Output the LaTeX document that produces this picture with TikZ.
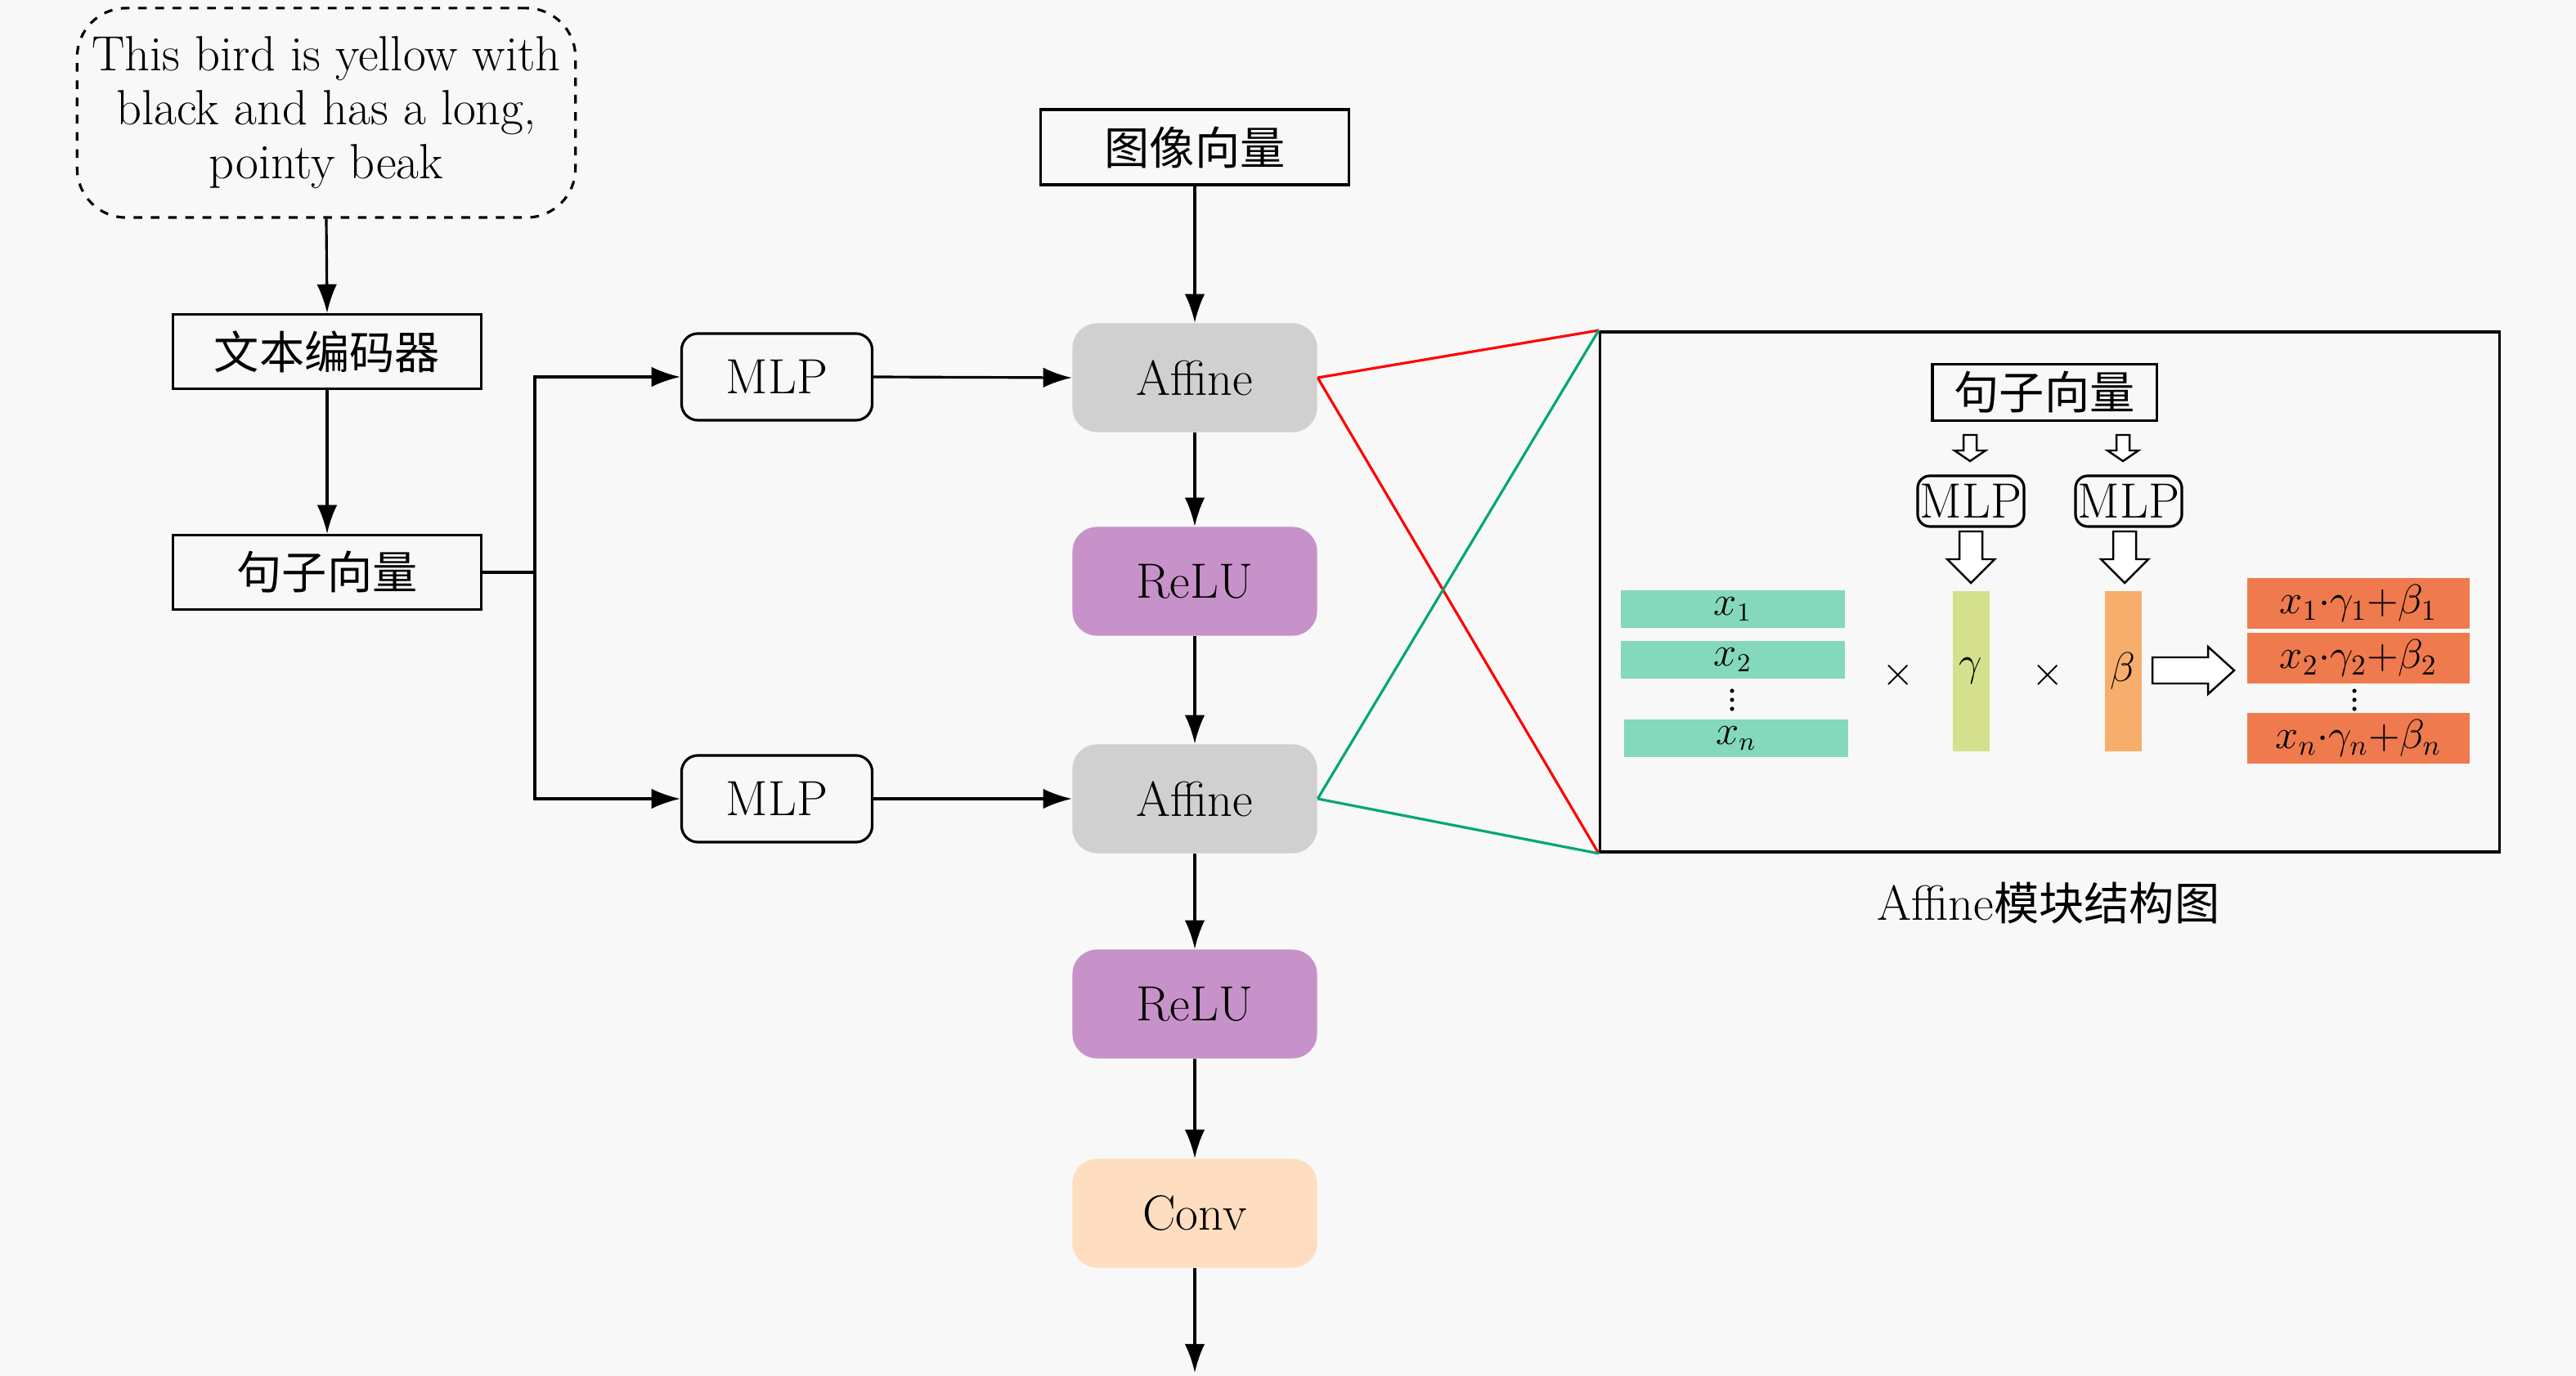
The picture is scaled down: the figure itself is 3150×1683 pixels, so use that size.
\documentclass[tikz,border=0pt]{standalone}
\usepackage{fontspec}
\newfontfamily\cjk{Noto Sans CJK SC}
\newcommand{\zh}{\cjk\fontsize{15.7}{18.8}\selectfont}
\usetikzlibrary{arrows.meta}
\definecolor{bg}{HTML}{F8F8F8}
\definecolor{affgray}{HTML}{D0D0D0}
\definecolor{relupurple}{HTML}{C692C9}
\definecolor{convpeach}{HTML}{FFDDC0}
\definecolor{tealbar}{HTML}{84D8BC}
\definecolor{gammabar}{HTML}{D4E08C}
\definecolor{betabar}{HTML}{F7AE6D}
\definecolor{outbar}{HTML}{EE7A4E}
\definecolor{linkgreen}{HTML}{00A676}
\tikzset{
  mainfont/.style={font=\fontsize{17.2}{18.8}\selectfont},
  smallfont/.style={font=\fontsize{13.5}{15}\selectfont},
  plainbox/.style={draw, rectangle, inner sep=0pt, line width=0.9pt, mainfont},
  mlpbox/.style={draw, rectangle, rounded corners=0.2cm, inner sep=0pt, line width=0.9pt, mainfont, minimum width=2.33cm, minimum height=1.06cm},
  stagebox/.style={rectangle, rounded corners=0.3cm, inner sep=0pt, mainfont, minimum width=2.99cm, minimum height=1.33cm},
  conn/.style={-{Latex[length=10pt,width=7pt]}, line width=0.9pt},
  hollow/.style={draw, line width=0.7pt, fill=white},
  xbar/.style={rectangle, fill=tealbar, inner sep=0pt, minimum width=2.74cm, minimum height=0.45cm, smallfont},
  obar/.style={rectangle, fill=outbar, inner sep=0pt, minimum width=2.72cm, minimum height=0.61cm, font=\fontsize{14.5}{16}\selectfont},
  vbar/.style={rectangle, inner sep=0pt, minimum width=0.45cm, minimum height=1.96cm, font=\fontsize{15}{16}\selectfont},
  smlp/.style={draw, rectangle, rounded corners=0.15cm, inner sep=0pt, line width=0.9pt, mainfont, minimum width=1.30cm, minimum height=0.62cm}
}
\begin{document}
\begin{tikzpicture}[x=0.01cm, y=-0.01cm]
\fill[bg] (0,0) rectangle (3150,1683);
\useasboundingbox (0,0) rectangle (3150,1683);

% left column
\node[draw, dashed, rounded corners=0.6cm, line width=0.9pt, minimum width=6.09cm, minimum height=2.56cm, align=center, mainfont] (desc) at (399,138)
  {This bird is yellow with\\ black and has a long,\\ pointy beak};
\node[plainbox, minimum width=3.76cm, minimum height=0.91cm] (enc) at (400,430) {\zh 文本编码器};
\node[plainbox, minimum width=3.76cm, minimum height=0.91cm] (sent) at (400,700) {\zh 句子向量};
\coordinate (split) at (654,700);
\coordinate (splitup) at (654,461);
\coordinate (splitdown) at (654,977);

\node[mlpbox] (mlpa) at (950,461) {MLP};
\node[mlpbox] (mlpb) at (950,977) {MLP};

% main column
\node[plainbox, minimum width=3.76cm, minimum height=0.92cm] (img) at (1461,180) {\zh 图像向量};
\node[stagebox, fill=affgray] (affa) at (1461,462) {Affine};
\node[stagebox, fill=relupurple] (relua) at (1461,711) {ReLU};
\node[stagebox, fill=affgray] (affb) at (1461,977) {Affine};
\node[stagebox, fill=relupurple] (relub) at (1461,1228) {ReLU};
\node[stagebox, fill=convpeach] (conv) at (1461,1484) {Conv};
\coordinate (out) at (1461,1679);

% connectors
\draw[conn] (desc.south) -- (enc.north);
\draw[conn] (enc.south) -- (sent.north);
\draw[line width=0.9pt] (sent.east) -- (split);
\draw[conn] (splitup) -- (splitdown |- mlpb.west) -- (mlpb.west);
\draw[conn] (splitdown) -- (splitup |- mlpa.west) -- (mlpa.west);
\draw[conn] (mlpa.east) -- (affa.west);
\draw[conn] (mlpb.east) -- (affb.west);
\draw[conn] (img.south) -- (affa.north);
\draw[conn] (affa.south) -- (relua.north);
\draw[conn] (relua.south) -- (affb.north);
\draw[conn] (affb.south) -- (relub.north);
\draw[conn] (relub.south) -- (conv.north);
\draw[conn] (conv.south) -- (out);

% detail box
\node[draw, rectangle, line width=1pt, minimum width=10.99cm, minimum height=6.36cm, inner sep=0pt] (detail) at (2506.5,724) {};
\draw[red, line width=0.9pt] (affa.east) -- (detail.north west);
\draw[red, line width=0.9pt] (affa.east) -- (detail.south west);
\draw[linkgreen, line width=0.9pt] (affb.east) -- (detail.north west);
\draw[linkgreen, line width=0.9pt] (affb.east) -- (detail.south west);
\node[mainfont] (caption) at (2505,1105) {Affine{\zh 模块结构图}};

% detail contents
\node[plainbox, minimum width=2.74cm, minimum height=0.69cm] (dsent) at (2500,480) {\zh 句子向量};
\node[smlp] (dmlpa) at (2410,613) {MLP};
\node[smlp] (dmlpb) at (2603,613) {MLP};

% small hollow arrows
\foreach \cx in {2409,2596}{
  \draw[hollow] (\cx-8,532) -- (\cx+8,532) -- (\cx+8,551) -- (\cx+19,551) -- (\cx,564) -- (\cx-19,551) -- (\cx-8,551) -- cycle;
}
% big hollow arrows
\foreach \cx in {2410,2598}{
  \draw[hollow] (\cx-14,650) -- (\cx+14,650) -- (\cx+14,684) -- (\cx+29,684) -- (\cx,713) -- (\cx-29,684) -- (\cx-14,684) -- cycle;
}

\node[xbar] (xa) at (2119,745) {$x_1$};
\node[xbar] (xb) at (2119,807) {$x_2$};
\foreach \yy in {845,856,867}{ \fill (2118,\yy) circle (2.6); }
\node[xbar] (xn) at (2123,903) {$x_n$};

\node[smallfont] (tima) at (2321,826) {$\times$};
\node[vbar, fill=gammabar] (gam) at (2410,821) {$\gamma$};
\node[smallfont] (timb) at (2504,826) {$\times$};
\node[vbar, fill=betabar] (bet) at (2596,821) {$\beta$};

% right hollow arrow
\draw[hollow] (2632,804) -- (2700,804) -- (2700,791) -- (2732,820) -- (2700,849) -- (2700,836) -- (2632,836) -- cycle;

\node[obar] (oa) at (2884,738) {$x_1{\cdot}\gamma_1{+}\beta_1$};
\node[obar] (ob) at (2884,805) {$x_2{\cdot}\gamma_2{+}\beta_2$};
\foreach \yy in {845,856,867}{ \fill (2879,\yy) circle (2.6); }
\node[obar] (on) at (2884,903) {$x_n{\cdot}\gamma_n{+}\beta_n$};
\end{tikzpicture}
\end{document}
